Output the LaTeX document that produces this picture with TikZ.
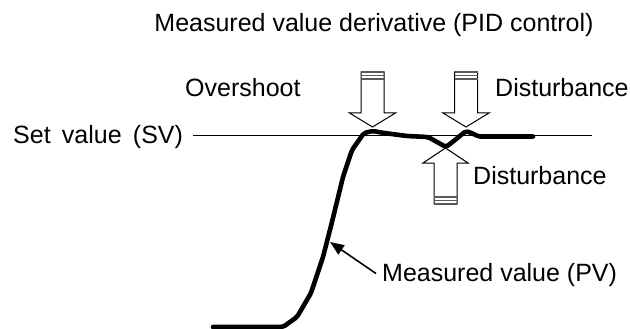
\documentclass[tikz,border=0pt]{standalone}
\usepackage{fontspec}
\setmainfont{Liberation Sans}
\usetikzlibrary{arrows.meta}
\tikzset{
  lbl/.style={inner sep=0pt, font=\fontsize{25}{30}\selectfont, anchor=base west},
  blk/.style={draw=black, fill=white, line width=1pt, line join=miter},
  stripe/.style={draw=black!65, line width=1.3pt},
  pvcurve/.style={line width=4.6pt, line join=round, line cap=round, rounded corners=2pt},
  thin/.style={line width=0.9pt},
  ptr/.style={line width=1.6pt, -{Triangle[length=14pt,width=11pt]}}
}
\newcommand\blkdown[5]{% cx, top, headbase, tip, name
  \path[blk] (#1-11.5,#2) -- (#1+11.5,#2) -- (#1+11.5,#3) -- (#1+23,#3) -- (#1,#4) coordinate (#5) -- (#1-23,#3) -- (#1-11.5,#3) -- cycle;
  \draw[stripe] (#1-11.5,#2) -- (#1+11.5,#2);
  \draw[stripe] (#1-11.5,#2+3.5) -- (#1+11.5,#2+3.5);
  \draw[stripe] (#1-11.5,#2+7) -- (#1+11.5,#2+7);
}
\newcommand\blkup[5]{% cx, bottom, headbase, tip, name
  \path[blk] (#1-11.5,#2) -- (#1+11.5,#2) -- (#1+11.5,#3) -- (#1+22.5,#3) -- (#1,#4) coordinate (#5) -- (#1-22.5,#3) -- (#1-11.5,#3) -- cycle;
  \draw[stripe] (#1-11.5,#2) -- (#1+11.5,#2);
  \draw[stripe] (#1-11.5,#2-3.5) -- (#1+11.5,#2-3.5);
  \draw[stripe] (#1-11.5,#2-7) -- (#1+11.5,#2-7);
}
\begin{document}
\begin{tikzpicture}[x=1pt,y=-1pt]
\useasboundingbox (0,0) rectangle (630,329);
% texts
\node[lbl, anchor=base] (title) at (374,32) {Measured value derivative (PID control)};
\node[lbl] (over) at (185,96) {Overshoot};
\node[lbl] (dist1) at (495,96) {Disturbance};
\node[lbl] (sv) at (13,143) {Set\hspace{0.45em}value\hspace{0.45em}(SV)};
\node[lbl] (dist2) at (473,184) {Disturbance};
\node[lbl] (pv) at (382,281) {Measured value (PV)};
% set value line
\coordinate (svL) at (193,135.5);
\coordinate (svR) at (592,135.5);
\draw[thin] (svL) -- (svR);
% measured value curve
\draw[pvcurve] (213,327) -- (283,327) -- (297,317) -- (311,293) -- (323,257) -- (332,222)
  -- (343,177) -- (352,150) -- (364,133) -- (373,131) -- (384,133) -- (407,136)
  -- (428,137) -- (437,142) -- (446,147) -- (455,140) -- (466,131) -- (474,134)
  -- (478,136.5) -- (533,136.5);
% block arrows
\blkdown{372.5}{72}{113}{127}{a1}
\blkdown{466}{72}{113}{127}{a2}
\blkup{445.5}{204}{163}{148}{a3}
% pointer to curve
\coordinate (pvtip) at (330,242);
\draw[ptr] ([xshift=-6pt,yshift=1pt]pv.west) -- (pvtip);
\end{tikzpicture}
\end{document}
